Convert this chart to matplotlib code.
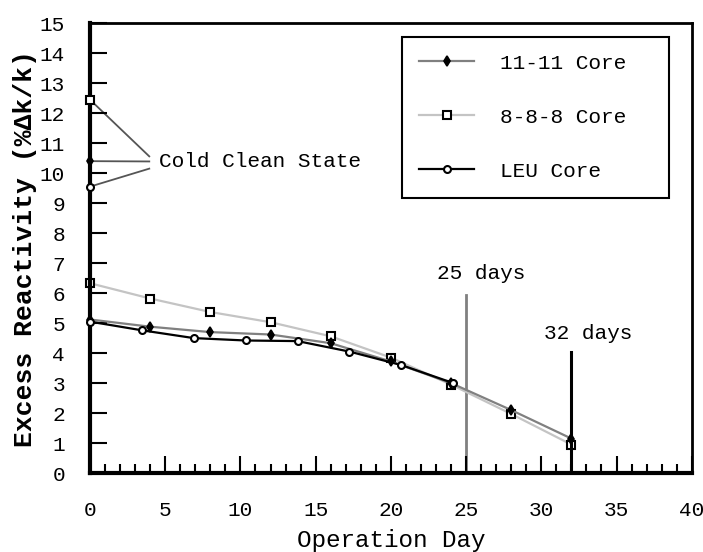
import matplotlib
matplotlib.use("Agg")
import matplotlib.pyplot as plt
from matplotlib.ticker import MultipleLocator

plt.rcParams["font.family"] = ["Liberation Mono", "DejaVu Sans Mono"]

# burnup curves, excess reactivity (%dk/k) vs operation day
days_11 = [0, 4, 8, 12, 16, 20, 24, 28, 32]
react_11 = [5.12, 4.88, 4.7, 4.62, 4.33, 3.72, 3.0, 2.1, 1.15]

days_888 = [0, 4, 8, 12, 16, 20, 24, 28, 32]
react_888 = [6.33, 5.82, 5.37, 5.03, 4.56, 3.85, 2.95, 1.97, 0.95]

days_leu = [0, 3.45, 6.9, 10.35, 13.8, 17.25, 20.7, 24.15]
react_leu = [5.05, 4.76, 4.5, 4.42, 4.4, 4.05, 3.6, 3.0]

# cold clean state values (day 0)
cold_11 = 10.4
cold_888 = 12.45
cold_leu = 9.55

cycle_days = [25, 32]
cycle_tops = [5.95, 4.05]
cycle_labels = ["25 days", "32 days"]

FS = 15.2


def make_chart():
    fig = plt.figure(figsize=(7.03, 5.52), dpi=100)
    ax = fig.add_axes([0.128, 0.143, 0.856, 0.815])

    ax.plot(days_11, react_11, color="#808080", lw=1.6, marker="d",
            ms=5, mfc="black", mec="black", mew=1.2, label="11-11 Core",
            zorder=3, clip_on=False)
    ax.plot(days_888, react_888, color="#c4c4c4", lw=1.6, marker="s",
            ms=5.5, mfc="white", mec="black", mew=1.5, label="8-8-8 Core",
            zorder=2, clip_on=False)
    ax.plot(days_leu, react_leu, color="black", lw=1.6, marker="o",
            ms=5, mfc="white", mec="black", mew=1.5, label="LEU Core",
            zorder=4, clip_on=False)

    # cold clean state points and leader lines
    ax.plot([0], [cold_888], marker="s", ms=5.5, mfc="white", mec="black",
            mew=1.5, clip_on=False, zorder=5)
    ax.plot([0], [cold_11], marker="d", ms=5, mfc="black", mec="black",
            mew=1.2, clip_on=False, zorder=5)
    ax.plot([0], [cold_leu], marker="o", ms=5, mfc="white", mec="black",
            mew=1.5, clip_on=False, zorder=5)
    for y0, y1 in zip([cold_888, cold_11, cold_leu], [10.56, 10.39, 10.15]):
        ax.plot([0, 3.94], [y0, y1], color="#555555", lw=1.3, zorder=1)
    ax.text(4.6, 10.4, "Cold Clean State", fontsize=FS, va="center")

    # cycle length markers
    ax.plot([cycle_days[0]] * 2, [0, cycle_tops[0]], color="#808080", lw=2,
            zorder=1)
    ax.plot([cycle_days[1]] * 2, [0, cycle_tops[1]], color="black", lw=2.2,
            zorder=6)
    ax.text(26.0, 6.66, cycle_labels[0], fontsize=FS, ha="center",
            va="center")
    ax.text(33.1, 4.66, cycle_labels[1], fontsize=FS, ha="center",
            va="center")

    ax.set_xlim(0, 40)
    ax.set_ylim(0, 15)
    ax.xaxis.set_major_locator(MultipleLocator(5))
    ax.xaxis.set_minor_locator(MultipleLocator(1))
    ax.yaxis.set_major_locator(MultipleLocator(1))

    ax.tick_params(axis="x", which="major", direction="in", length=12,
                   width=1.5, pad=20, labelsize=FS)
    ax.tick_params(axis="x", which="minor", direction="in", length=6.5,
                   width=1.5)
    ax.tick_params(axis="y", which="major", direction="in", length=12,
                   width=1.5, pad=18, labelsize=FS)

    for side in ["left", "bottom"]:
        ax.spines[side].set_linewidth(3)
    for side in ["top", "right"]:
        ax.spines[side].set_linewidth(2)

    ax.set_xlabel("Operation Day", fontsize=17.5)
    ax.set_ylabel("Excess Reactivity (%Δk/k)", fontsize=19,
                  fontweight="bold")
    ax.xaxis.set_label_coords(0.5, -0.125)
    ax.yaxis.set_label_coords(-0.088, 0.5)

    leg = ax.legend(loc="upper left", bbox_to_anchor=(0.519, 0.614, 0.444, 0.356),
                    mode="expand", borderaxespad=0, fontsize=FS,
                    handlelength=2.6, handletextpad=1.23, labelspacing=1.66,
                    borderpad=0.8, fancybox=False, framealpha=1)
    leg.get_frame().set_edgecolor("black")
    leg.get_frame().set_linewidth(1.5)

    fig.savefig("out.png", dpi=100)


if __name__ == "__main__":
    make_chart()
